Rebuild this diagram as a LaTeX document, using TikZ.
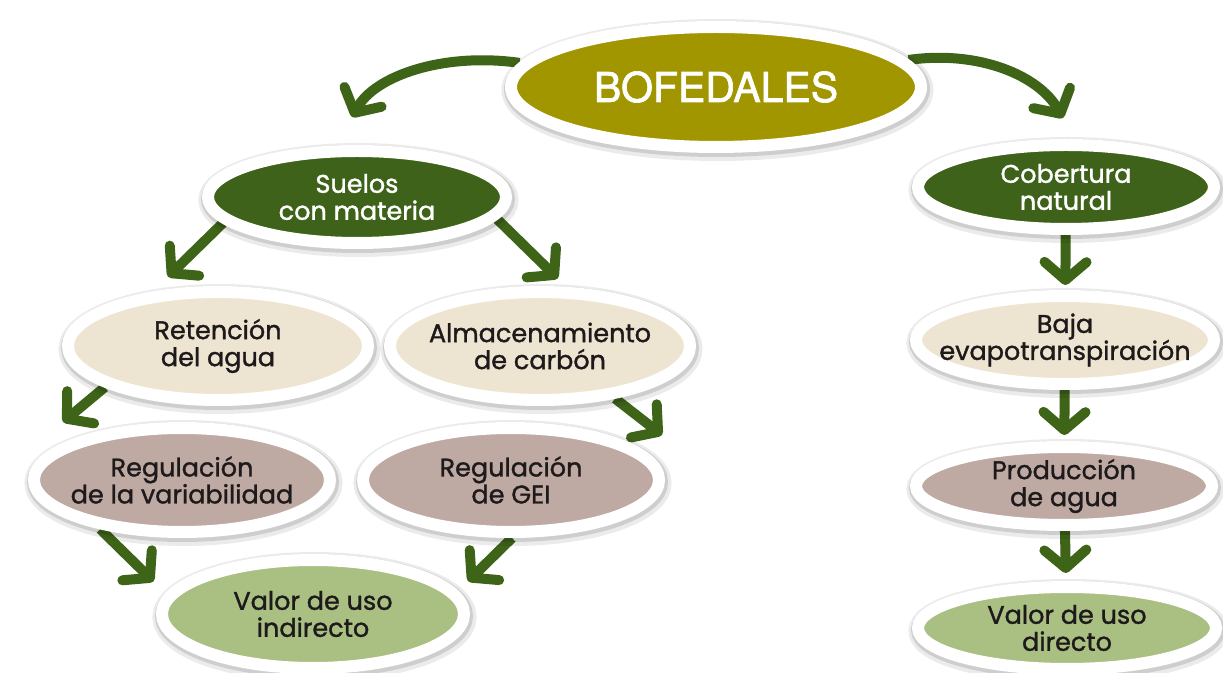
\documentclass[tikz,border=0pt]{standalone}
\usepackage{fontspec}
\setmainfont{Poppins}[FakeBold=1.3]
\newfontfamily\titlefont{TeX Gyre Heros}[FakeBold=1.6]
\usetikzlibrary{positioning}
\usetikzlibrary{arrows.meta}
\usetikzlibrary{shapes}
\usetikzlibrary{backgrounds}
\definecolor{olive}{RGB}{161,150,0}
\definecolor{darkgreen}{RGB}{62,98,25}
\definecolor{beige}{RGB}{237,229,209}
\definecolor{mauve}{RGB}{191,170,163}
\definecolor{lightgreen}{RGB}{170,191,130}
\definecolor{arrgreen}{RGB}{62,100,24}
\definecolor{textgray}{RGB}{30,26,27}

\begin{document}
\begin{tikzpicture}[x=1pt, y=1pt]
	\tikzstyle{bubble}=[ellipse, draw=white, line width=12pt, inner sep=-40pt, align=center,
		font=\fontsize{25.5}{27}\selectfont, text=textgray,
		preaction={draw=black, draw opacity=0.08, line width=22pt, transform canvas={xshift=1.5pt, yshift=-3pt}},
		preaction={draw=black, draw opacity=0.12, line width=16pt, transform canvas={xshift=1pt, yshift=-2pt}}]
	\tikzstyle{arr}=[draw=arrgreen, line width=10pt, -{Straight Barb[length=18pt, width=42pt, round]}]
	
	\useasboundingbox (0,0) rectangle (1223,672);
	
	\draw node at (716,585) [bubble, fill=olive, text=white, minimum width=410pt, minimum height=120pt, font=\titlefont\fontsize{41}{48}\selectfont] (bofe) {BOFEDALES};
	
	\draw node at (357,475) [bubble, fill=darkgreen, text=white, minimum width=298pt, minimum height=92pt] (suelos) {Suelos\\con materia};
	\draw node at (218,326) [bubble, fill=beige, minimum width=300pt, minimum height=108pt] (reten) {Retención\\del agua};
	\draw node at (540,326) [bubble, fill=beige, minimum width=300pt, minimum height=108pt] (almac) {Almacenamiento\\de carbón};
	\draw node at (182,192) [bubble, fill=mauve, minimum width=296pt, minimum height=104pt] (regvar) {Regulación\\de la variabilidad};
	\draw node at (511,192) [bubble, fill=mauve, minimum width=296pt, minimum height=104pt] (reggei) {Regulación\\de GEI};
	\draw node at (313,58) [bubble, fill=lightgreen, minimum width=302pt, minimum height=108pt] (valind) {Valor de uso\\indirecto};
	
	\draw node at (1066,485) [bubble, fill=darkgreen, text=white, minimum width=296pt, minimum height=84pt] (cober) {Cobertura\\natural};
	\draw node at (1065,332) [bubble, fill=beige, minimum width=298pt, minimum height=88pt] (baja) {Baja\\evapotranspiración};
	\draw node at (1064,186) [bubble, fill=mauve, minimum width=296pt, minimum height=78pt] (prod) {Producción\\de agua};
	\draw node at (1067,44) [bubble, fill=lightgreen, minimum width=298pt, minimum height=82pt] (valdir) {Valor de uso\\directo};
	
	\coordinate (varin) at (63,250);
	\coordinate (geiin) at (662,237);
	
	\begin{pgfonlayer}{background}
		\draw [arr, shorten >=32pt] (bofe.173) to[out=172, in=62] (suelos.111);
		\draw [arr, shorten >=24pt] (bofe.8) to[out=8, in=119] (cober.80);
		
		\draw [arr, shorten >=21pt] (suelos.191) to (reten.140);
		\draw [arr, shorten >=12pt] (suelos.-9) to (almac.66);
		\draw [arr] (reten.200) to (varin);
		\draw [arr] (almac.-35) to (geiin);
		\draw [arr, shorten >=17pt] (regvar.211) to (valind.172);
		\draw [arr, shorten >=14pt] (reggei.271) to (valind.9);
		
		\draw [arr, shorten >=5pt] (cober) to (baja);
		\draw [arr, shorten >=6pt] (baja) to (prod);
		\draw [arr, shorten >=8pt] (prod) to (valdir);
	\end{pgfonlayer}
\end{tikzpicture}
\end{document}
